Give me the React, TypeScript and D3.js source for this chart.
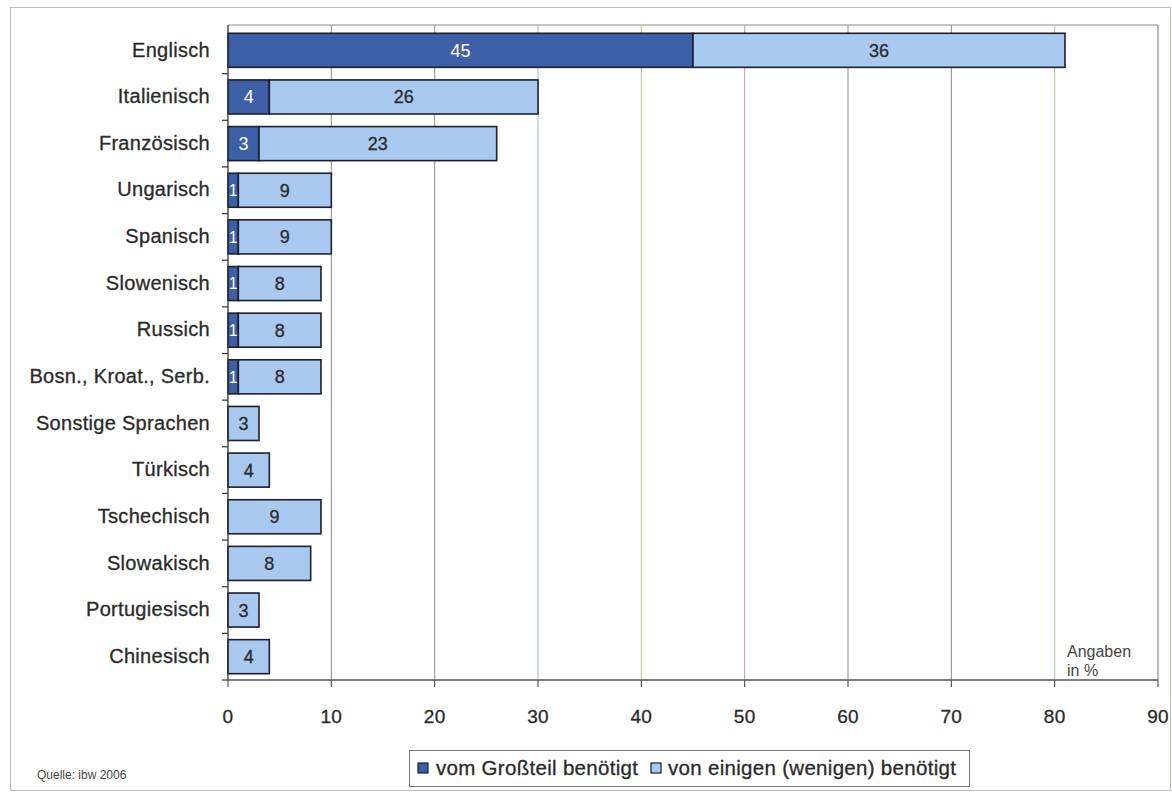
import React from "react";
import * as d3 from "d3";

const categories = [
  "Englisch", "Italienisch", "Französisch", "Ungarisch", "Spanisch", "Slowenisch",
  "Russich", "Bosn., Kroat., Serb.", "Sonstige Sprachen", "Türkisch", "Tschechisch",
  "Slowakisch", "Portugiesisch", "Chinesisch",
];
const groStteil = [45, 4, 3, 1, 1, 1, 1, 1, 0, 0, 0, 0, 0, 0];
const einige = [36, 26, 23, 9, 9, 8, 8, 8, 3, 4, 9, 8, 3, 4];
const xTicks = [0, 10, 20, 30, 40, 50, 60, 70, 80, 90];
const seriesNames = ["vom Großteil benötigt", "von einigen (wenigen) benötigt"];
const gridColors = ["#8a8a8a", "#9a9090", "#a09a90", "#9cc7a0", "#c0c890", "#c8a0b0", "#9a90a8", "#9a8aa0", "#a6d4a6", "#8a8a8a"];

const W = 1172, H = 797;
const font = "'Liberation Sans', Arial, sans-serif";
const dark = "#3d5fa8";
const light = "#a9c9f1";
const stroke = "#1c1f2a";
const txt = "#2a2a2a";

export default function App() {
  const x = d3.scaleLinear().domain([0, 90]).range([228, 1158]);
  const y = d3.scaleBand<string>().domain(categories).range([27, 680]).paddingInner(0.27).paddingOuter(0.135);
  const bw = y.bandwidth();
  const axisY = 680;
  const top = 25;
  const heavy = { stroke: txt, strokeWidth: 0.3 } as const;

  return (
    <svg width={W} height={H} style={{ position: "absolute", left: 0, top: 0, background: "#fff" }} fontFamily={font}>
      <rect x={0} y={0} width={W} height={H} fill="#fff" />
      <rect x={10.5} y={7.5} width={1160} height={783} fill="none" stroke="#b8c0b8" strokeWidth={1} />
      <line x1={x(0)} x2={x(90)} y1={top} y2={top} stroke="#8c8c8c" strokeWidth={1.2} />
      <line x1={x(90)} x2={x(90)} y1={top} y2={axisY} stroke="#8c8c8c" strokeWidth={1.2} />
      {xTicks.slice(1, -1).map((t, i) => (
        <line key={t} x1={x(t)} x2={x(t)} y1={top} y2={axisY} stroke={gridColors[i + 1]} strokeWidth={1.1} />
      ))}
      {categories.map((c, i) => {
        const y0 = y(c)!;
        const a = groStteil[i];
        const b = einige[i];
        return (
          <g key={c}>
            {a > 0 && (
              <rect x={x(0)} y={y0} width={x(a) - x(0)} height={bw} fill={dark} stroke={stroke} strokeWidth={1.6} />
            )}
            <rect x={x(a)} y={y0} width={x(a + b) - x(a)} height={bw} fill={light} stroke={stroke} strokeWidth={1.6} />
            {a > 0 && (
              <text x={(x(0) + x(a)) / 2} y={y0 + bw / 2} dy="0.36em" textAnchor="middle" fontSize={a > 1 ? 18 : 16} fill="#fff">
                {a}
              </text>
            )}
            <text x={(x(a) + x(a + b)) / 2} y={y0 + bw / 2} dy="0.36em" textAnchor="middle" fontSize={18} fill={txt} {...heavy}>
              {b}
            </text>
            <text x={210} y={y0 + bw / 2 - 1} dy="0.36em" textAnchor="end" fontSize={20} letterSpacing={0.3} fill={txt} {...heavy}>
              {c}
            </text>
          </g>
        );
      })}
      <line x1={x(0)} x2={x(0)} y1={top} y2={axisY} stroke="#333" strokeWidth={1.3} />
      {categories.map((c, i) => {
        const yy = y(c)! - (y.step() - bw) / 2;
        return i === 0 ? null : <line key={c} x1={x(0) - 6} x2={x(0)} y1={yy} y2={yy} stroke="#333" strokeWidth={1.2} />;
      })}
      <line x1={x(0) - 6} x2={x(0)} y1={axisY} y2={axisY} stroke="#333" strokeWidth={1.2} />
      <line x1={x(0)} x2={x(90)} y1={axisY} y2={axisY} stroke="#555" strokeWidth={1.4} />
      {xTicks.map((t) => (
        <g key={t}>
          <line x1={x(t)} x2={x(t)} y1={axisY} y2={axisY + 7} stroke="#555" strokeWidth={1.2} />
          <text x={x(t)} y={723} textAnchor="middle" fontSize={19} letterSpacing={0.3} fill={txt} {...heavy}>
            {t}
          </text>
        </g>
      ))}
      <text x={1067} y={657} fontSize={16} fill="#444">Angaben</text>
      <text x={1067} y={676} fontSize={16} fill="#444">in %</text>
      <text x={37} y={779} fontSize={12} fill="#444">Quelle: ibw 2006</text>
      <rect x={409.5} y={750.5} width={560} height={36} fill="#fff" stroke="#777" strokeWidth={1} />
      <rect x={418} y={763} width={10} height={10} fill={dark} stroke={stroke} strokeWidth={1.2} />
      <text x={436} y={775} fontSize={20.5} letterSpacing={0.3} fill={txt} {...heavy}>{seriesNames[0]}</text>
      <rect x={651} y={763} width={10} height={10} fill={light} stroke={stroke} strokeWidth={1.2} />
      <text x={668} y={775} fontSize={20.5} letterSpacing={0.3} fill={txt} {...heavy}>{seriesNames[1]}</text>
    </svg>
  );
}
